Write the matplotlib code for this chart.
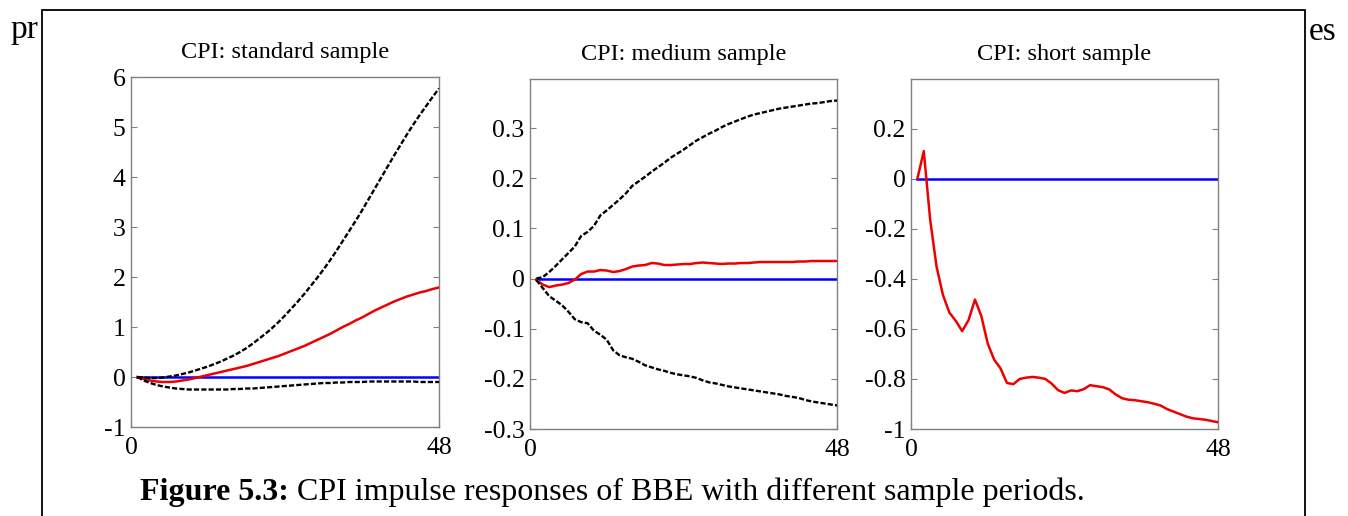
import numpy as np
import matplotlib.pyplot as plt
from matplotlib.patches import Rectangle

# horizon (series start at step 1, axis runs 0..48)
steps = np.arange(1, 49)

std_mid = [0.00, -0.04, -0.07, -0.09, -0.10, -0.10, -0.09, -0.07, -0.05, -0.02,
           0.01, 0.04, 0.07, 0.10, 0.13, 0.16, 0.19, 0.22, 0.26, 0.30,
           0.34, 0.38, 0.42, 0.47, 0.52, 0.57, 0.62, 0.68, 0.74, 0.80,
           0.86, 0.93, 1.00, 1.06, 1.13, 1.19, 1.26, 1.33, 1.39, 1.45,
           1.51, 1.56, 1.61, 1.65, 1.69, 1.72, 1.76, 1.79]
std_hi = [0.00, -0.01, -0.02, -0.02, -0.01, 0.01, 0.03, 0.06, 0.09, 0.13,
          0.17, 0.21, 0.26, 0.31, 0.37, 0.43, 0.50, 0.58, 0.67, 0.77,
          0.87, 0.98, 1.10, 1.23, 1.37, 1.51, 1.66, 1.82, 1.98, 2.15,
          2.33, 2.52, 2.72, 2.92, 3.12, 3.33, 3.55, 3.77, 3.99, 4.21,
          4.43, 4.64, 4.85, 5.05, 5.24, 5.42, 5.60, 5.77]
std_lo = [0.00, -0.07, -0.12, -0.16, -0.19, -0.21, -0.23, -0.24, -0.25, -0.25,
          -0.25, -0.25, -0.25, -0.25, -0.25, -0.24, -0.24, -0.23, -0.23, -0.22,
          -0.21, -0.20, -0.19, -0.18, -0.17, -0.16, -0.15, -0.14, -0.13, -0.12,
          -0.12, -0.11, -0.11, -0.10, -0.10, -0.10, -0.09, -0.09, -0.09, -0.09,
          -0.09, -0.09, -0.09, -0.09, -0.10, -0.10, -0.10, -0.10]

med_mid = [-0.003, -0.012, -0.017, -0.014, -0.012, -0.009, -0.002, 0.009, 0.014, 0.014,
           0.017, 0.016, 0.013, 0.015, 0.019, 0.024, 0.026, 0.027, 0.031, 0.030,
           0.027, 0.027, 0.028, 0.029, 0.029, 0.031, 0.032, 0.031, 0.030, 0.029,
           0.030, 0.030, 0.031, 0.031, 0.032, 0.033, 0.033, 0.033, 0.033, 0.033,
           0.033, 0.034, 0.034, 0.035, 0.035, 0.035, 0.035, 0.035]
med_hi = [0.000, 0.003, 0.013, 0.025, 0.038, 0.051, 0.064, 0.085, 0.093, 0.105,
          0.126, 0.136, 0.147, 0.158, 0.170, 0.185, 0.194, 0.203, 0.213, 0.222,
          0.231, 0.241, 0.249, 0.257, 0.266, 0.275, 0.282, 0.289, 0.295, 0.302,
          0.308, 0.313, 0.318, 0.323, 0.327, 0.330, 0.333, 0.336, 0.339, 0.341,
          0.343, 0.345, 0.347, 0.349, 0.350, 0.352, 0.354, 0.355]
med_lo = [-0.003, -0.019, -0.035, -0.044, -0.053, -0.066, -0.081, -0.087, -0.089, -0.104,
          -0.112, -0.122, -0.143, -0.153, -0.157, -0.160, -0.166, -0.173, -0.177, -0.181,
          -0.184, -0.188, -0.191, -0.193, -0.195, -0.198, -0.203, -0.207, -0.209, -0.212,
          -0.215, -0.217, -0.219, -0.221, -0.223, -0.225, -0.227, -0.229, -0.231, -0.234,
          -0.236, -0.238, -0.242, -0.245, -0.247, -0.249, -0.251, -0.253]

short_mid = [0.000, 0.110, -0.165, -0.352, -0.465, -0.535, -0.568, -0.609, -0.565, -0.483,
             -0.549, -0.659, -0.723, -0.758, -0.816, -0.821, -0.800, -0.795, -0.792, -0.795,
             -0.800, -0.819, -0.845, -0.856, -0.846, -0.849, -0.841, -0.825, -0.829, -0.833,
             -0.842, -0.862, -0.877, -0.883, -0.885, -0.889, -0.893, -0.899, -0.906, -0.920,
             -0.930, -0.940, -0.950, -0.957, -0.960, -0.963, -0.968, -0.973]

titles = ['CPI: standard sample', 'CPI: medium sample', 'CPI: short sample']
std_ticks = [-1, 0, 1, 2, 3, 4, 5, 6]
std_labels = ['-1', '0', '1', '2', '3', '4', '5', '6']
med_ticks = [-0.3, -0.2, -0.1, 0, 0.1, 0.2, 0.3]
med_labels = ['-0.3', '-0.2', '-0.1', '0', '0.1', '0.2', '0.3']
short_ticks = [-1, -0.8, -0.6, -0.4, -0.2, 0, 0.2]
short_labels = ['-1', '-0.8', '-0.6', '-0.4', '-0.2', '0', '0.2']
caption_bold = 'Figure 5.3:'
caption_rest = ' CPI impulse responses of BBE with different sample periods.'

W, H = 1348, 516
serif = ['Liberation Serif', 'DejaVu Serif']
plt.rcParams['font.family'] = serif

fig = plt.figure(figsize=(W / 100, H / 100), dpi=100)


def px_axes(left, top, right, bottom):
    return fig.add_axes([left / W, 1 - bottom / H, (right - left) / W, (bottom - top) / H])


axes = [px_axes(131, 77, 439, 427), px_axes(530, 79, 837, 429), px_axes(911, 79, 1218, 429)]
ylims = [(-1, 6), (-0.3, 0.398), (-1, 0.398)]
ticks = [(std_ticks, std_labels), (med_ticks, med_labels), (short_ticks, short_labels)]
bands = [(std_lo, std_hi), (med_lo, med_hi), None]
mids = [std_mid, med_mid, short_mid]

dash = (0, (2.2, 0.9))
for ax, title, ylim, (tk, tl), band, mid in zip(axes, titles, ylims, ticks, bands, mids):
    ax.plot(steps, np.zeros(len(steps)), color='#0000ff', lw=1.8, zorder=2)
    ax.plot(steps, mid, color='#ee0000', lw=1.8, zorder=3)
    if band is not None:
        ax.plot(steps, band[0], color='black', lw=1.7, ls=dash, zorder=4)
        ax.plot(steps, band[1], color='black', lw=1.7, ls=dash, zorder=4)
    ax.set_xlim(0, 48)
    ax.set_ylim(*ylim)
    ax.set_xticks([0, 48])
    ax.set_xticklabels(['0', '48'])
    ax.set_yticks(tk)
    ax.set_yticklabels(tl)
    ax.tick_params(direction='in', length=4, width=0.8, color='#808080',
                   right=True, labelsize=18.5, labelcolor='black')
    ax.tick_params(axis='y', pad=4)
    ax.tick_params(axis='x', pad=7)
    for sp in ax.spines.values():
        sp.set_color('#808080')
        sp.set_linewidth(1.0)
    ax.set_title(title, fontsize=17.5, pad=13.5)

# page frame and cut-off body text
fig.add_artist(Rectangle((42 / W, -0.1), (1305 - 42) / W, 1 - 10 / H + 0.1,
                         transform=fig.transFigure, fill=False, lw=1.3, ec='black'))
fig.text(10 / W, 1 - 38 / H, 'pr', fontsize=24, va='baseline', ha='left')
fig.text(1309 / W, 1 - 40 / H, 'es', fontsize=24, va='baseline', ha='left')

t = fig.text(140 / W, 1 - 500 / H, caption_bold, fontsize=23, fontweight='bold',
             va='baseline', ha='left')
fig.canvas.draw()
bb = t.get_window_extent()
fig.text(bb.x1 / W, 1 - 500 / H, caption_rest, fontsize=23, va='baseline', ha='left')

fig.savefig('out.png', dpi=100)
